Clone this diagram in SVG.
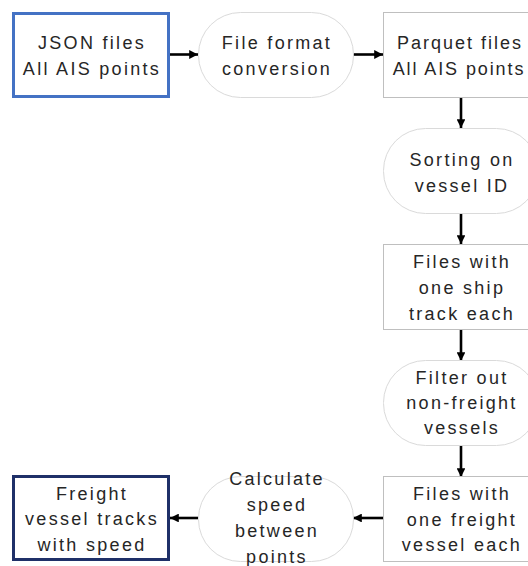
<svg xmlns="http://www.w3.org/2000/svg" width="528" height="566" viewBox="0 0 528 566">
<defs>
<marker id="ah" viewBox="0 0 10 10" refX="10" refY="5" markerWidth="3.4" markerHeight="3.4" orient="auto" markerUnits="strokeWidth"><path d="M0,0 L10,5 L0,10 Z" fill="#000"/></marker>
<style>
.t{font-family:"Liberation Sans",Arial,sans-serif;font-size:18px;letter-spacing:2.3px;fill:#262626;text-anchor:middle}
.rect{fill:#fff;stroke:#BFBFBF;stroke-width:1}
.round{fill:#fff;stroke:#DADADA;stroke-width:1}
.c{stroke:#000;stroke-width:2.6;fill:none;marker-end:url(#ah)}
</style>
</defs>
<rect width="528" height="566" fill="#fff"/>
<g id="connectors">
<line class="c" x1="170" y1="54.5" x2="198" y2="54.5"/>
<line class="c" x1="353" y1="54.5" x2="383" y2="54.5"/>
<line class="c" x1="461" y1="97" x2="461" y2="128"/>
<line class="c" x1="461" y1="213" x2="461" y2="244"/>
<line class="c" x1="461" y1="329" x2="461" y2="361"/>
<line class="c" x1="461" y1="445" x2="461" y2="477"/>
<line class="c" x1="383" y1="518" x2="353" y2="518"/>
<line class="c" x1="198" y1="518" x2="170" y2="518"/>
</g>
<g id="json">
<rect x="13.5" y="13.5" width="155" height="83" fill="#fff" stroke="#4472C4" stroke-width="3"/>
<text class="t" x="92" y="49">JSON files</text>
<text class="t" x="92" y="75">All AIS points</text>
</g>
<g id="conv">
<rect class="round" x="198.5" y="12.5" width="155" height="85" rx="42" ry="42"/>
<text class="t" x="277" y="49">File format</text>
<text class="t" x="277" y="75">conversion</text>
</g>
<g id="parquet">
<rect class="rect" x="383.5" y="12.5" width="155" height="85"/>
<text class="t" x="460" y="49" style="letter-spacing:2px">Parquet files</text>
<text class="t" x="459" y="75" style="letter-spacing:1.9px">All AIS points</text>
</g>
<g id="sort">
<rect class="round" x="383.5" y="128.5" width="155" height="85" rx="42" ry="42"/>
<text class="t" x="462" y="166">Sorting on</text>
<text class="t" x="462" y="192">vessel ID</text>
</g>
<g id="ship">
<rect class="rect" x="383.5" y="244.5" width="155" height="85"/>
<text class="t" x="462" y="268">Files with</text>
<text class="t" x="462" y="294">one ship</text>
<text class="t" x="462" y="320">track each</text>
</g>
<g id="filter">
<rect class="round" x="383.5" y="360.5" width="155" height="85" rx="42" ry="42"/>
<text class="t" x="462" y="384">Filter out</text>
<text class="t" x="462" y="409">non-freight</text>
<text class="t" x="462" y="434">vessels</text>
</g>
<g id="freight">
<rect class="rect" x="383.5" y="476.5" width="155" height="85"/>
<text class="t" x="462" y="500">Files with</text>
<text class="t" x="462" y="526">one freight</text>
<text class="t" x="462" y="551">vessel each</text>
</g>
<g id="calc">
<rect class="round" x="198.5" y="476.5" width="155" height="85" rx="42" ry="42"/>
<text class="t" x="277" y="485">Calculate</text>
<text class="t" x="277" y="511">speed</text>
<text class="t" x="277" y="537">between</text>
<text class="t" x="277" y="563">points</text>
</g>
<g id="final">
<rect x="13.5" y="476.5" width="155" height="83" fill="#fff" stroke="#1F3068" stroke-width="3"/>
<text class="t" x="92" y="500">Freight</text>
<text class="t" x="92" y="525">vessel tracks</text>
<text class="t" x="92" y="551">with speed</text>
</g>
</svg>
